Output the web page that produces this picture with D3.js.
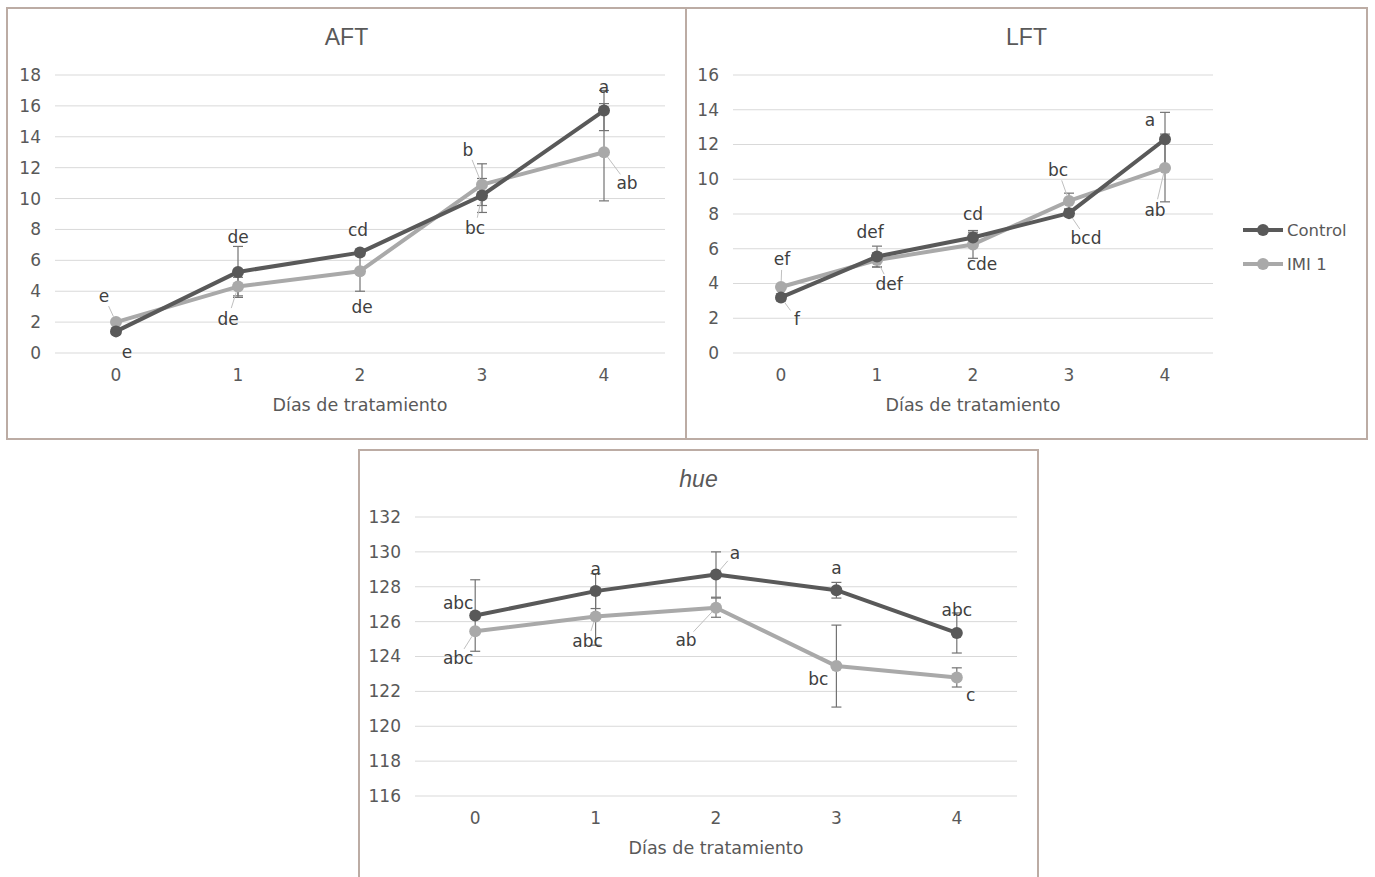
<!DOCTYPE html>
<html>
<head>
<meta charset="utf-8">
<script src="https://cdn.jsdelivr.net/npm/d3@7"></script>
<style>
  body { margin: 0; background: #fff; }
  svg text { font-family: "DejaVu Sans", sans-serif; }
</style>
</head>
<body>
<svg id="chart" width="1375" height="877"></svg>
<script>
// data
const days = ["0", "1", "2", "3", "4"];
const seriesNames = ["Control", "IMI 1"];

const aftControl = [1.4, 5.25, 6.5, 10.2, 15.7];
const aftControlErr = [0.2, 1.65, 0.2, 1.1, 1.3];
const aftImi = [2.0, 4.3, 5.3, 10.9, 13.0];
const aftImiErr = [0.15, 0.6, 1.3, 1.35, 3.15];
const aftControlLetters = ["e", "de", "cd", "bc", "a"];
const aftImiLetters = ["e", "de", "de", "b", "ab"];
const aftTicks = [0, 2, 4, 6, 8, 10, 12, 14, 16, 18];

const lftControl = [3.2, 5.55, 6.65, 8.05, 12.3];
const lftControlErr = [0.2, 0.6, 0.3, 0.2, 1.55];
const lftImi = [3.8, 5.35, 6.25, 8.75, 10.65];
const lftImiErr = [0.1, 0.4, 0.8, 0.45, 1.95];
const lftControlLetters = ["f", "def", "cd", "bcd", "a"];
const lftImiLetters = ["ef", "def", "cde", "bc", "ab"];
const lftTicks = [0, 2, 4, 6, 8, 10, 12, 14, 16];

const hueControl = [126.35, 127.75, 128.7, 127.8, 125.35];
const hueControlErr = [2.05, 1.0, 1.3, 0.45, 1.15];
const hueImi = [125.45, 126.3, 126.8, 123.45, 122.8];
const hueImiErr = [0.1, 1.65, 0.55, 2.35, 0.55];
const hueControlLetters = ["abc", "a", "a", "a", "abc"];
const hueImiLetters = ["abc", "abc", "ab", "bc", "c"];
const hueTicks = [116, 118, 120, 122, 124, 126, 128, 130, 132];

const colors = { "Control": "#595959", "IMI 1": "#a9a9a9" };
const textColor = "#595959";
const borderColor = "#bcaca4";

const svg = d3.select("#chart");

function drawPanel(cfg) {
  const g = svg.append("g");

  g.append("rect")
    .attr("x", cfg.box[0]).attr("y", cfg.box[1])
    .attr("width", cfg.box[2]).attr("height", cfg.box[3])
    .attr("fill", "#fff")
    .attr("stroke", borderColor)
    .attr("stroke-width", 2);

  const x = d3.scaleBand().domain(days).range([cfg.left, cfg.right]);
  const y = d3.scaleLinear().domain(d3.extent(cfg.ticks)).range([cfg.bottom, cfg.top]);
  const cx = d => x(d) + x.bandwidth() / 2;

  // gridlines
  g.append("g").selectAll("line")
    .data(cfg.ticks).enter().append("line")
    .attr("x1", cfg.left).attr("x2", cfg.right)
    .attr("y1", d => y(d)).attr("y2", d => y(d))
    .attr("stroke", "#d9d9d9").attr("stroke-width", 1);

  const yAxis = g.append("g")
    .attr("transform", `translate(${cfg.left - 14},0)`)
    .call(d3.axisLeft(y).tickValues(cfg.ticks).tickSize(0).tickPadding(0))
    .call(a => a.select(".domain").remove());
  yAxis.selectAll("text")
    .style("font-family", "DejaVu Sans").style("font-size", "17px").attr("fill", textColor);

  const xAxis = g.append("g")
    .attr("transform", `translate(0,${cfg.bottom + 16})`)
    .call(d3.axisBottom(x).tickSize(0).tickPadding(0))
    .call(a => a.select(".domain").remove());
  xAxis.selectAll("text")
    .style("font-family", "DejaVu Sans").style("font-size", "17px").attr("fill", textColor);

  g.append("text")
    .attr("x", (cfg.left + cfg.right) / 2)
    .attr("y", cfg.bottom + 58)
    .attr("text-anchor", "middle")
    .style("font-size", "17.5px")
    .attr("fill", textColor)
    .text("Días de tratamiento");

  g.append("text")
    .attr("x", cfg.box[0] + cfg.box[2] / 2)
    .attr("y", cfg.box[1] + 37)
    .attr("text-anchor", "middle")
    .style("font-family", "Liberation Sans, Arial, sans-serif")
    .style("font-size", "23px")
    .style("font-style", cfg.italic ? "italic" : "normal")
    .attr("fill", textColor)
    .text(cfg.title);

  // light series first so the dark line sits on top
  const series = cfg.series.slice().reverse();

  series.forEach(s => {
    const pts = days.map((d, i) => ({ d, v: s.values[i], e: s.err[i] }));
    const eb = g.append("g").attr("stroke", "#737373").attr("stroke-width", 1.2);
    pts.forEach(p => {
      eb.append("line")
        .attr("x1", cx(p.d)).attr("x2", cx(p.d))
        .attr("y1", y(p.v - p.e)).attr("y2", y(p.v + p.e));
      [p.v - p.e, p.v + p.e].forEach(v => {
        eb.append("line")
          .attr("x1", cx(p.d) - 5).attr("x2", cx(p.d) + 5)
          .attr("y1", y(v)).attr("y2", y(v));
      });
    });
  });

  series.forEach(s => {
    const pts = days.map((d, i) => ({ d, v: s.values[i] }));
    g.append("path")
      .datum(pts)
      .attr("fill", "none")
      .attr("stroke", colors[s.name])
      .attr("stroke-width", 4)
      .attr("stroke-linejoin", "round")
      .attr("d", d3.line().x(p => cx(p.d)).y(p => y(p.v)));
    g.append("g").selectAll("circle")
      .data(pts).enter().append("circle")
      .attr("cx", p => cx(p.d)).attr("cy", p => y(p.v))
      .attr("r", 6)
      .attr("fill", colors[s.name]);
  });

  // letters + leader lines; place = [dx, dy, leader]
  cfg.series.forEach(s => {
    days.forEach((d, i) => {
      const [dx, dy, leader] = s.place[i];
      const px = cx(d), py = y(s.values[i]);
      if (leader) {
        const len = Math.hypot(dx, dy);
        const ux = dx / len, uy = dy / len;
        g.append("line")
          .attr("x1", px + ux * 6).attr("y1", py + uy * 6)
          .attr("x2", px + dx - ux * 11).attr("y2", py + dy - uy * 11)
          .attr("stroke", "#bfbfbf").attr("stroke-width", 1);
      }
      g.append("text")
        .attr("x", px + dx).attr("y", py + dy)
        .attr("text-anchor", "middle")
        .attr("dominant-baseline", "central")
        .style("font-size", "17px")
        .attr("fill", "#404040")
        .text(s.letters[i]);
    });
  });
}

drawPanel({
  title: "AFT", box: [7, 8, 679, 431],
  left: 55, right: 665, top: 75, bottom: 353, ticks: aftTicks,
  series: [
    { name: "Control", values: aftControl, err: aftControlErr, letters: aftControlLetters,
      place: [[11, 21, false], [0, -35, false], [-2, -23, false], [-7, 33, true], [0, -24, false]] },
    { name: "IMI 1", values: aftImi, err: aftImiErr, letters: aftImiLetters,
      place: [[-12, -26, true], [-10, 32, true], [2, 36, false], [-14, -35, true], [23, 31, true]] }
  ]
});

drawPanel({
  title: "LFT", box: [686, 8, 681, 431],
  left: 733, right: 1213, top: 75, bottom: 353, ticks: lftTicks,
  series: [
    { name: "Control", values: lftControl, err: lftControlErr, letters: lftControlLetters,
      place: [[16, 22, true], [-7, -25, false], [0, -23, false], [17, 25, true], [-15, -19, false]] },
    { name: "IMI 1", values: lftImi, err: lftImiErr, letters: lftImiLetters,
      place: [[1, -28, true], [12, 24, true], [9, 20, false], [-11, -31, true], [-10, 42, true]] }
  ]
});

drawPanel({
  title: "hue", italic: true, box: [359, 450, 679, 440],
  left: 415, right: 1017, top: 517, bottom: 796, ticks: hueTicks,
  series: [
    { name: "Control", values: hueControl, err: hueControlErr, letters: hueControlLetters,
      place: [[-17, -13, false], [0, -22, false], [19, -22, true], [0, -22, false], [0, -23, false]] },
    { name: "IMI 1", values: hueImi, err: hueImiErr, letters: hueImiLetters,
      place: [[-17, 27, true], [-8, 25, true], [-30, 32, true], [-18, 13, false], [14, 18, false]] }
  ]
});

// legend (sits in the LFT panel)
const legend = svg.append("g");
seriesNames.forEach((name, i) => {
  const ly = 230 + i * 34;
  legend.append("line")
    .attr("x1", 1243).attr("x2", 1283).attr("y1", ly).attr("y2", ly)
    .attr("stroke", colors[name]).attr("stroke-width", 4);
  legend.append("circle")
    .attr("cx", 1263).attr("cy", ly).attr("r", 6).attr("fill", colors[name]);
  legend.append("text")
    .attr("x", 1287).attr("y", ly)
    .attr("dominant-baseline", "central")
    .style("font-size", "16.5px")
    .attr("fill", textColor)
    .text(name);
});
</script>
</body>
</html>
